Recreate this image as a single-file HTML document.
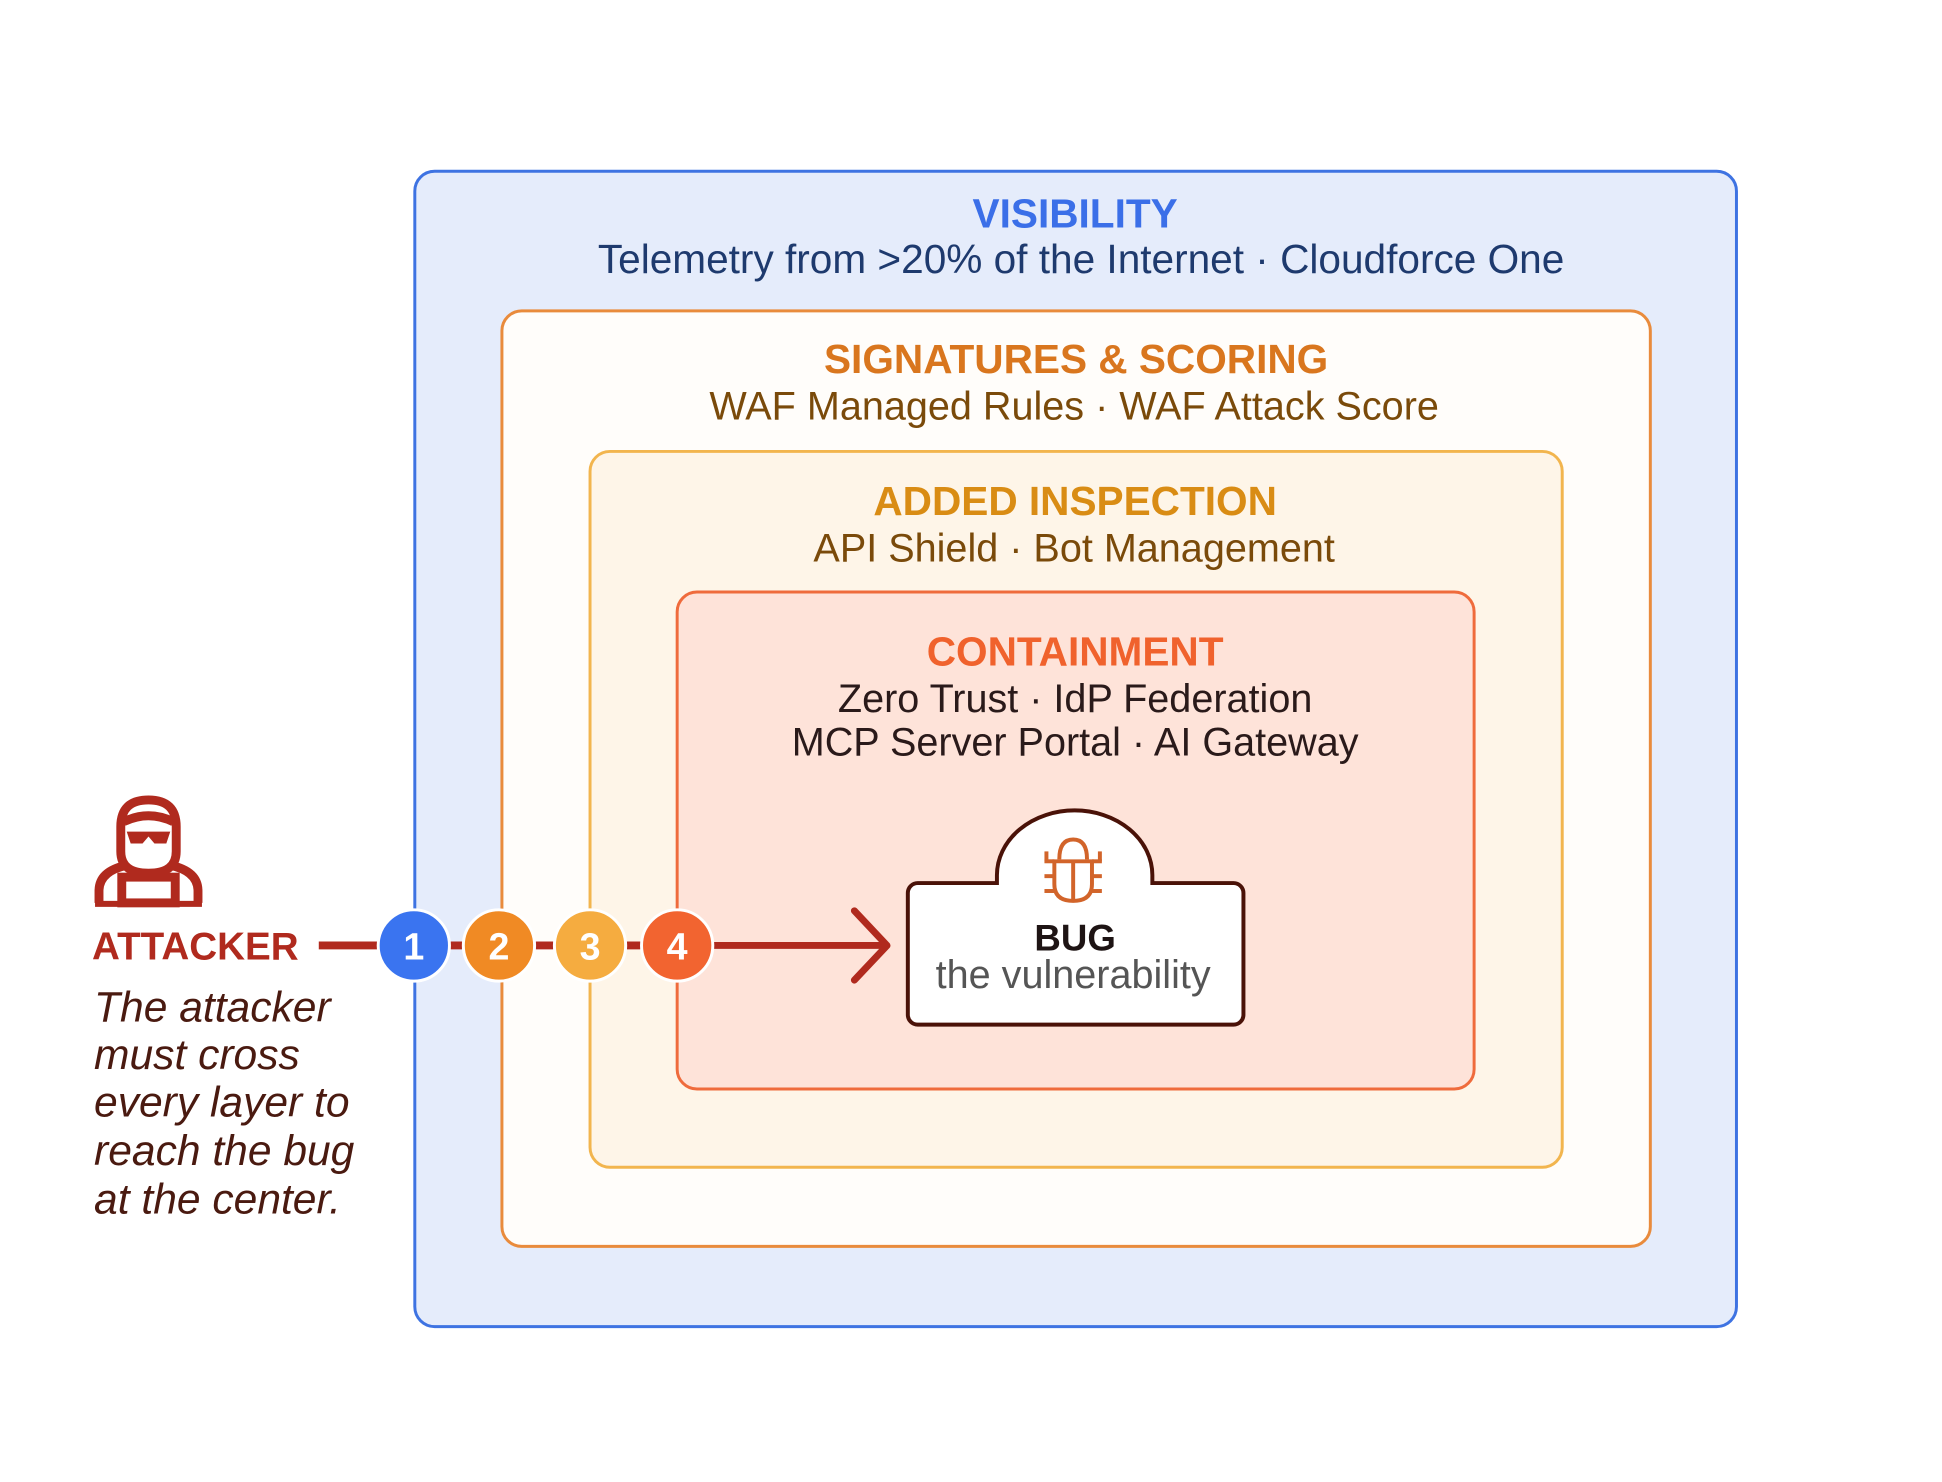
<!DOCTYPE html>
<html><head><meta charset="utf-8"><style>
html,body{margin:0;padding:0;background:#fff;}
svg{display:block;}
text{font-family:"Liberation Sans",sans-serif;}
</style></head><body>
<svg width="1942" height="1482" viewBox="0 0 1942 1482" xmlns="http://www.w3.org/2000/svg">
<rect x="0" y="0" width="1942" height="1482" fill="#fff"/>
<g transform="scale(0.99)">
<rect x="419" y="173" width="1335" height="1167" rx="20" fill="#e5ecfb" stroke="#3e73e2" stroke-width="3"/>
<rect x="507" y="314" width="1160" height="945" rx="20" fill="#fffdfa" stroke="#e98b3c" stroke-width="3"/>
<rect x="596" y="456" width="982" height="723" rx="20" fill="#fef5e8" stroke="#f2b54e" stroke-width="3"/>
<rect x="684" y="598" width="805" height="502" rx="20" fill="#fee3d9" stroke="#ef6b3c" stroke-width="3"/>

<g text-anchor="middle">
<text x="1086" y="230" font-size="41" font-weight="bold" fill="#3b6fe8">VISIBILITY</text>
<text x="1092" y="276" font-size="41" fill="#1e3a6e">Telemetry from &gt;20% of the Internet · Cloudforce One</text>
<text x="1087" y="377" font-size="41" font-weight="bold" fill="#d9761e">SIGNATURES &amp; SCORING</text>
<text x="1085" y="424" font-size="40" fill="#7a4a0a">WAF Managed Rules · WAF Attack Score</text>
<text x="1086" y="520" font-size="41" font-weight="bold" fill="#d98c14">ADDED INSPECTION</text>
<text x="1085" y="567" font-size="40" fill="#7a4a0a">API Shield · Bot Management</text>
<text x="1086" y="672" font-size="41" font-weight="bold" fill="#f0622d">CONTAINMENT</text>
<text x="1086" y="719" font-size="40" fill="#2a1a1a">Zero Trust · IdP Federation</text>
<text x="1086" y="763" font-size="40" fill="#2a1a1a">MCP Server Portal · AI Gateway</text>
</g>

<path d="M927 892 L1007 892 L1007 884 A78 65 0 0 1 1164 884 L1164 892 L1246 892 A10 10 0 0 1 1256 902 L1256 1025 A10 10 0 0 1 1246 1035 L927 1035 A10 10 0 0 1 917 1025 L917 902 A10 10 0 0 1 927 892 Z" fill="#fff" stroke="#4a1208" stroke-width="4"/>
<g fill="none" stroke="#d2642a" stroke-width="4" transform="translate(10,8)">
<path d="M1060 860 Q1060 840 1074 840 Q1088 840 1088 860"/>
<path d="M1055 862 L1093 862 L1093 885 Q1093 902 1074 902 Q1055 902 1055 885 Z"/>
<line x1="1074" y1="862" x2="1074" y2="902"/>
<line x1="1045" y1="862" x2="1055" y2="862"/><line x1="1093" y1="862" x2="1103" y2="862"/>
<line x1="1045" y1="877" x2="1055" y2="877"/><line x1="1093" y1="877" x2="1103" y2="877"/>
<line x1="1045" y1="892" x2="1055" y2="892"/><line x1="1093" y1="892" x2="1103" y2="892"/>
<line x1="1047" y1="852" x2="1047" y2="862"/><line x1="1101" y1="852" x2="1101" y2="862"/>
</g>
<text x="1086" y="960" font-size="37" font-weight="bold" fill="#1e1414" text-anchor="middle">BUG</text>
<text x="1084" y="998" font-size="40" fill="#555" text-anchor="middle">the vulnerability</text>

<line x1="322" y1="955" x2="720" y2="955" stroke="#b02a1e" stroke-width="8"/>
<line x1="720" y1="955" x2="895" y2="955" stroke="#b02a1e" stroke-width="7"/>
<polyline points="863,920 896,955 863,990" fill="none" stroke="#b02a1e" stroke-width="7" stroke-linecap="round" stroke-linejoin="round"/>
<g stroke="#fff" stroke-width="3">
<circle cx="418" cy="955" r="36" fill="#3a74f0"/>
<circle cx="504" cy="955" r="36" fill="#f08a24"/>
<circle cx="596" cy="955" r="36" fill="#f5ac40"/>
<circle cx="684" cy="955" r="36" fill="#f26430"/>
</g>
<g font-size="38" font-weight="bold" fill="#fff" text-anchor="middle">
<text x="418" y="969">1</text><text x="504" y="969">2</text><text x="596" y="969">3</text><text x="684" y="969">4</text>
</g>

<g fill="none" stroke="#b02a1e" stroke-width="9">
<path d="M122 835 Q122 808 150 808 Q178 808 178 835 L178 860 Q178 882 150 882 Q122 882 122 860 Z"/>
<path d="M125 830 Q150 818 175 830"/>
<path d="M100 912 L100 900 Q100 880 128 874"/>
<path d="M172 874 Q200 880 200 900 L200 912"/>
<rect x="123" y="886" width="54" height="26"/>
</g>
<line x1="96" y1="913" x2="204" y2="913" stroke="#b02a1e" stroke-width="6"/>
<path d="M128 840 L172 840 L168 852 L156 852 L150 845 L144 852 L132 852 Z" fill="#b02a1e"/>

<text x="93" y="969" font-size="39" font-weight="bold" fill="#b02a1e">ATTACKER</text>
<g font-size="43" font-style="italic" fill="#4a1a10">
<text x="95" y="1032">The attacker</text>
<text x="95" y="1080">must cross</text>
<text x="95" y="1128">every layer to</text>
<text x="95" y="1177">reach the bug</text>
<text x="95" y="1226">at the center.</text>
</g>
</g>
</svg>
</body></html>
